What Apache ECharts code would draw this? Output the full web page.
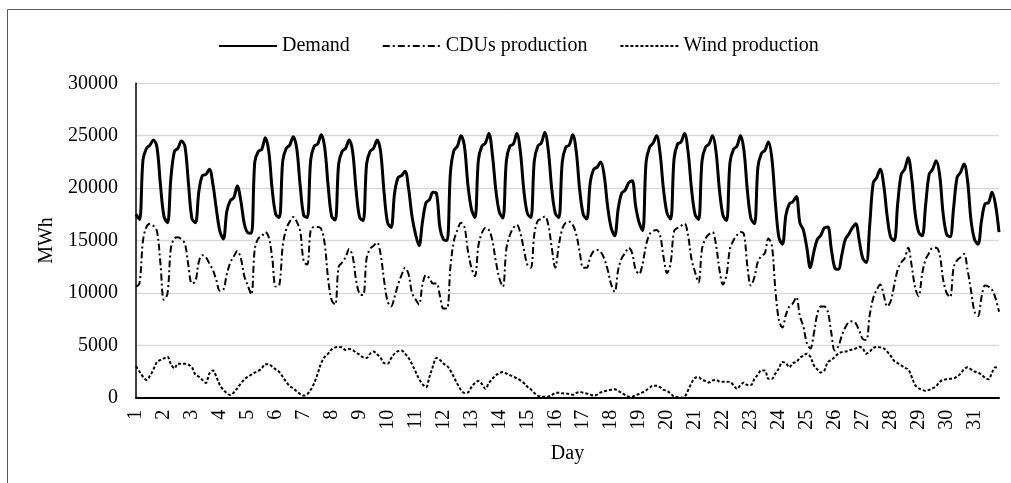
<!DOCTYPE html>
<html>
<head>
<meta charset="utf-8">
<script src="https://cdn.jsdelivr.net/npm/echarts@6/dist/echarts.min.js"></script>
<style>
html,body{margin:0;padding:0;background:#fff;}
#chart{width:1011px;height:483px;}
</style>
</head>
<body>
<div id="chart"></div>
<script>
// Day labels and 3-hourly sampling hours within each day
var days = [1,2,3,4,5,6,7,8,9,10,11,12,13,14,15,16,17,18,19,20,21,22,23,24,25,26,27,28,29,30,31];
var hours = [0,3,6,9,12,15,18,21];
var yTicks = [0,5000,10000,15000,20000,25000,30000];
var seriesNames = ['Demand','CDUs production','Wind production'];

// Demand (MWh), 8 values per day (h0..h21)
var demand = [
17500,17000,22700,23800,24100,24600,23900,20300,
17300,16700,21000,23500,23800,24500,24000,20500,
17100,16700,19700,21200,21300,21800,20400,18000,
15900,15150,17800,18800,19100,20200,18800,16600,
15750,15700,22500,23500,23700,24800,23500,19800,
17500,17200,22600,23800,24100,24900,23800,20200,
17400,17200,22700,24000,24200,25100,23900,20200,
17300,16950,22300,23500,23800,24600,23500,19800,
17200,16900,22300,23500,23800,24600,23500,19600,
16700,16250,19500,21000,21200,21600,20000,17300,
15600,14500,16800,18600,18900,19600,19500,16200,
15100,15000,21500,23600,24000,25000,24000,20300,
18000,17200,22700,24000,24300,25200,23200,19800,
17700,17150,22600,24000,24200,25200,23500,19800,
17600,17200,22600,24000,24300,25300,23600,19900,
17600,17200,22500,23900,24100,25100,23500,19800,
17500,17050,20500,21800,22000,22500,21200,18200,
16200,15450,18000,19500,19800,20500,20700,18300,
16700,15950,22500,23900,24300,25000,23300,19800,
17600,17050,22800,24200,24400,25200,23500,19900,
17500,17000,22600,23900,24200,25000,23500,19800,
17400,16900,22400,23700,24000,25000,23600,19700,
17100,16600,22000,23300,23600,24400,22800,18600,
15300,14650,17400,18500,18700,19200,16700,16000,
14300,12400,13900,15100,15500,16200,16300,14200,
12400,12250,13600,15100,15600,16200,16600,15000,
13300,12900,16500,20500,21000,21800,20300,17300,
15300,15000,18500,21300,21800,22900,21000,17600,
15800,15450,18400,21300,21800,22600,21300,17600,
15600,15350,18100,21000,21500,22300,20700,16900,
15100,14650,16900,18500,18600,19600,18400,15800
];

// CDUs production (MWh)
var cdus = [
10600,10900,15000,16300,16600,16400,15900,12800,
9350,9900,14300,15200,15300,15100,14700,12600,
10900,11100,13000,13600,13400,12800,12200,11200,
10200,10300,11800,12900,13500,14000,13300,11600,
10700,9850,14200,15200,15400,15800,15300,13300,
10600,10700,14500,16100,16800,17250,16800,15900,
13000,12700,16000,16300,16300,16100,14700,11300,
9300,8900,12500,12900,13400,14200,13500,11200,
9900,9800,13300,14200,14500,14800,13700,11200,
9200,8700,9600,10800,11700,12400,11800,10000,
9400,8900,10800,11700,11400,10900,10900,9700,
8500,8500,12500,15000,16000,16700,16300,14000,
12400,11600,14500,15700,16200,16000,15000,13000,
11400,10600,14200,15500,16200,16500,15700,14200,
12700,12400,15600,16900,17050,17300,16500,14300,
12400,14500,16100,16700,16800,16500,15600,13900,
12400,12400,13400,14000,14100,13900,13300,12200,
10800,10100,12200,13300,13800,14300,13800,12200,
11800,12800,14600,15600,15900,16000,15500,13400,
11900,12800,15900,16200,16400,16600,15500,13200,
12000,11000,14200,15200,15600,15800,14600,12200,
10800,11700,14200,15000,15500,15800,15600,12500,
10700,11500,13000,13500,13800,15200,14500,10300,
7400,6700,7900,8700,9000,9600,7800,6800,
5200,4700,6100,8000,8700,8700,8200,6200,
4500,4900,5900,6700,7200,7300,7100,6400,
5600,5500,7900,9500,10300,10800,9800,8700,
9200,10700,12200,12900,13300,14300,12600,10500,
9700,11800,13200,13800,14300,14300,13700,11300,
10000,9600,12400,13100,13400,13700,12200,10200,
8200,7800,9600,10700,10600,10300,9500,8200
];

// Wind production (MWh)
var wind = [
3000,2500,2000,1700,2100,2700,3400,3600,
3750,3900,3200,2800,3250,3250,3250,3150,
2900,2200,2000,1700,1400,2300,2600,2000,
1200,750,450,250,500,900,1350,1750,
2000,2200,2400,2550,2800,3200,3200,2950,
2700,2450,2000,1500,1100,900,600,350,
200,320,750,1400,2300,3300,3900,4200,
4600,4800,4850,4800,4550,4650,4550,4300,
4100,3850,3800,4200,4400,4150,3800,3300,
3250,3750,4200,4450,4500,4200,3800,3200,
2500,1800,1300,1000,2000,3000,3800,3600,
3250,3050,2600,1950,1300,750,450,500,
1000,1400,1600,1300,850,1400,1800,2150,
2350,2450,2300,2150,2000,1850,1650,1400,
1050,800,450,200,100,80,100,250,
450,480,420,400,350,280,450,550,
480,400,300,200,300,500,600,700,
750,800,650,450,250,100,100,250,
350,500,700,950,1150,1150,1000,750,
650,400,100,50,0,80,700,1400,
1900,1950,1700,1600,1450,1650,1700,1550,
1530,1530,1500,1200,850,1200,1450,1200,
1200,1800,2200,2600,2600,1800,1800,2300,
2800,3400,3300,2900,3300,3400,3800,4000,
4200,3900,3100,2700,2400,2600,3400,3600,
3900,4200,4350,4400,4500,4600,4700,4850,
4700,4200,4400,4750,4850,4800,4700,4400,
4000,3500,3300,3100,2850,2700,2000,1200,
900,750,650,750,900,1100,1500,1700,
1750,1800,1850,2000,2300,2700,2900,2700,
2500,2400,2200,1900,1750,2400,2900,2800
];

var categories = [];
days.forEach(function (d) { hours.forEach(function (h) { categories.push(d + '-' + h); }); });

var FONT = "'Liberation Serif','Times New Roman',serif";
var chart = echarts.init(document.getElementById('chart'), null, {renderer: 'canvas'});
chart.setOption({
  animation: false,
  backgroundColor: '#ffffff',
  graphic: [{
    type: 'rect', z: -1, silent: true,
    shape: {x: 7.5, y: 9.5, width: 1100, height: 600},
    style: {fill: 'none', stroke: '#595959', lineWidth: 1}
  }],
  legend: {
    left: 213, top: 31,
    itemWidth: 58, itemHeight: 14, itemGap: 32,
    itemStyle: {opacity: 0},
    textStyle: {fontFamily: FONT, fontSize: 20, color: '#000'},
    data: seriesNames
  },
  grid: {left: 136, right: 12, top: 83.3, bottom: 85.3, containLabel: false},
  xAxis: {
    type: 'category', data: categories, boundaryGap: false,
    name: 'Day', nameLocation: 'middle', nameGap: 46,
    nameTextStyle: {fontFamily: FONT, fontSize: 20, color: '#000'},
    axisLine: {lineStyle: {color: '#000', width: 2}},
    axisTick: {show: false},
    axisLabel: {
      interval: 7, rotate: 90, margin: 12,
      fontFamily: FONT, fontSize: 20, color: '#000',
      formatter: function (v) { return v.split('-')[0]; }
    },
    splitLine: {show: false}
  },
  yAxis: {
    type: 'value', min: yTicks[0], max: yTicks[yTicks.length - 1], interval: 5000,
    name: 'MWh', nameLocation: 'middle', nameGap: 72,
    nameTextStyle: {fontFamily: FONT, fontSize: 20, color: '#000'},
    axisLine: {show: true, lineStyle: {color: '#000', width: 1.5}},
    axisTick: {show: false},
    axisLabel: {margin: 18, fontFamily: FONT, fontSize: 20, color: '#000',
      formatter: function (v) { return String(v); }},
    splitLine: {lineStyle: {color: '#d9d9d9', width: 1.3}}
  },
  series: [
    {
      name: seriesNames[0], type: 'line', data: demand, symbol: 'none', smooth: 0.35, z: 5,
      lineStyle: {color: '#000', width: 3, type: 'solid'},
      itemStyle: {color: '#000'}
    },
    {
      name: seriesNames[1], type: 'line', data: cdus, symbol: 'none', smooth: 0.35, z: 4,
      lineStyle: {color: '#000', width: 2, type: [7, 3, 2, 3]},
      itemStyle: {color: '#000'}
    },
    {
      name: seriesNames[2], type: 'line', data: wind, symbol: 'none', smooth: 0.35, z: 3,
      lineStyle: {color: '#000', width: 2, type: [3, 2]},
      itemStyle: {color: '#000'}
    }
  ]
});
</script>
</body>
</html>
